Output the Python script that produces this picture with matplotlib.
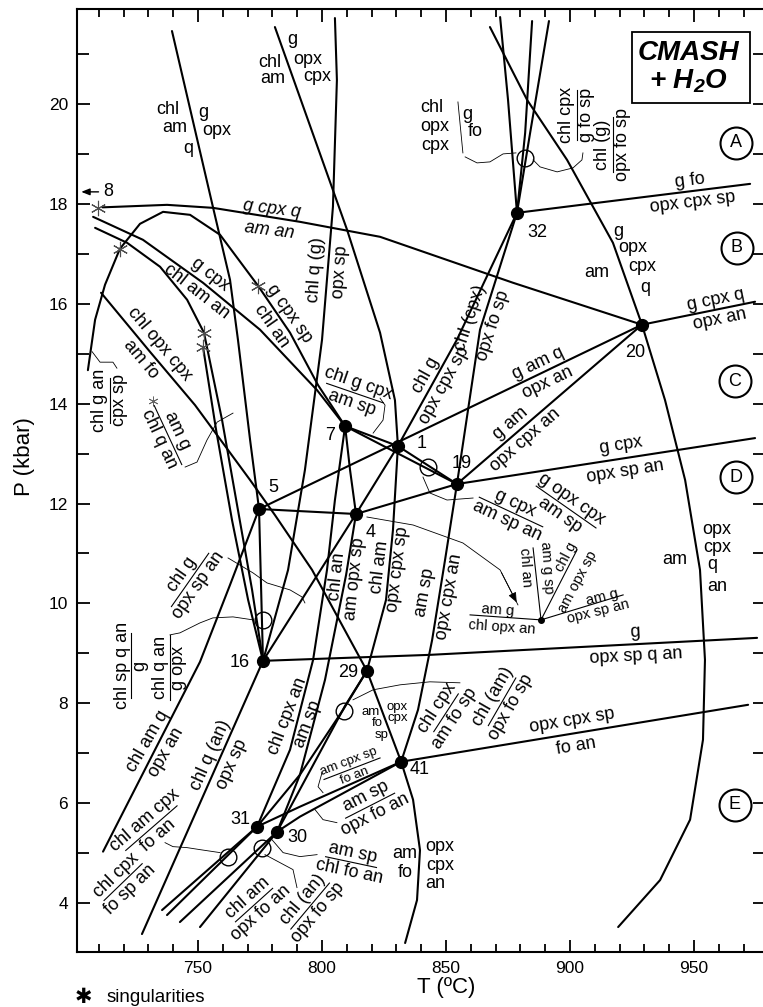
import numpy as np
import matplotlib.pyplot as plt
from matplotlib.patches import Rectangle

plt.rcParams['font.family'] = ['Liberation Sans', 'DejaVu Sans']
plt.rcParams['mathtext.fontset'] = 'custom'
plt.rcParams['mathtext.bf'] = 'Liberation Sans:bold:italic'

# invariant points (T in C, P in kbar)
ip_name = ['32', '20', '7', '1', '19', '5', '4', '16', '29', '41', '31', '30']
ip_T = [878.6, 929.0, 809.3, 830.6, 854.4, 774.6, 813.7, 776.2, 818.1, 831.9, 773.8, 781.9]
ip_P = [17.82, 15.58, 13.55, 13.15, 12.39, 11.89, 11.79, 8.85, 8.65, 6.83, 5.53, 5.43]
ip = {n: (t, p) for n, t, p in zip(ip_name, ip_T, ip_P)}

# singular points (open circles) and singularities (stars)
sing_T = [881.8, 842.7, 776.2, 808.9, 762.1, 775.8]
sing_P = [18.92, 12.73, 9.67, 7.85, 4.93, 5.10]
star_T = [709.7, 718.5, 774.2, 752.4, 752.0]
star_P = [17.92, 17.10, 16.36, 15.42, 15.14]

# univariant reactions
g_cpx_q = [(711.5, 17.93), (737.5, 17.98), (756.0, 17.92), (791.1, 17.64), (823.4, 17.34), (877.0, 16.42), ip['20']]
g_cpx_q_hi = [ip['20'], (974.6, 16.04)]
g_fo = [ip['32'], (910.9, 18.02), (972.6, 18.40)]
am_out = [(867.7, 21.54), (882.7, 20.08), (898.8, 18.88), (917.3, 17.22), ip['20'], (938.3, 14.07),
          (946.4, 12.47), (952.4, 10.67), (954.4, 8.87), (953.6, 7.27), (948.4, 5.67), (936.3, 4.46), (919.4, 3.52)]
top_a = [(871.8, 21.74), (875.0, 20.08), ip['32']]
top_b = [(884.7, 21.66), (881.9, 19.42), ip['32']]
top_c = [(891.5, 21.66), (883.9, 19.42), ip['32']]
chl_g = [ip['32'], (854.4, 15.28), ip['1'], ip['4'], ip['16']]
chl_cpx = [ip['32'], (863.7, 15.48), ip['19']]
chl_am = [(781.0, 21.54), (810.1, 17.48), (823.4, 15.42), (829.4, 14.07), ip['1'], (828.6, 11.47), (825.8, 10.07), ip['29']]
g_am_q = [ip['5'], ip['20']]
g_am = [ip['19'], ip['20']]
g_cpx_sp = [ip['4'], ip['19'], (974.6, 13.31)]
five_four = [ip['5'], ip['4']]
chl_opx_cpx = [(710.9, 16.22), (730.6, 15.04), (748.8, 13.97), (771.0, 12.47), (781.0, 11.77), (796.0, 10.67), ip['29'], ip['41']]
am_fo = [ip['41'], (836.7, 6.07), (839.5, 5.06), (838.3, 4.06), (833.5, 3.20)]
opx_cpx_sp = [ip['41'], (971.8, 7.97)]
am_sp = [ip['19'], (849.6, 10.87), (844.4, 9.27), (838.7, 7.87), ip['41']]
g_opx = [ip['16'], (843.5, 8.97), (975.4, 9.31)]
chl_q = [(805.2, 21.72), (806.0, 20.48), (804.4, 17.94), (800.0, 15.28), (798.4, 14.67), (793.1, 12.67), (786.3, 10.67), ip['16'], (727.4, 3.38)]
chl_am_q = [(739.5, 21.46), (756.0, 17.94), (762.9, 16.48), (766.1, 15.28), (771.0, 13.27), ip['5'],
            (762.9, 10.37), (750.8, 8.83), (730.6, 6.87), (711.7, 5.03)]
hump = [(705.6, 14.67), (708.5, 15.68), (712.5, 16.38), (718.5, 17.10), (726.6, 17.60), (735.9, 17.84), (746.8, 17.78),
        (758.9, 17.38), (774.2, 16.36), (787.1, 15.42), (798.4, 14.37), ip['7']]
g_cpx_chl = [(707.7, 17.74), (727.8, 17.28), (752.0, 16.42), (775.0, 15.48), (798.0, 14.27), ip['7']]
chl_am_an = [(708.5, 17.52), (721.4, 17.22), (734.7, 16.74), (745.6, 16.08), (752.4, 15.42)]
sing_a = [(752.4, 15.42), (759.7, 13.67), (766.1, 11.87), (771.8, 10.27), ip['16']]
sing_b = [(752.0, 15.14), (757.3, 13.47), (763.7, 11.67), (770.2, 10.07), ip['16']]
five_16 = [ip['5'], (775.4, 10.37), ip['16']]
seven_four = [ip['7'], (811.3, 12.67), ip['4']]
chl_an = [ip['4'], (809.7, 10.57), (801.2, 8.47), (791.1, 6.57), ip['30'], (742.7, 3.62)]
chl_cpx_an = [ip['7'], (805.2, 12.07), (802.0, 10.67), (796.4, 8.87), (787.1, 7.07), ip['31'], (735.5, 3.86)]
t29_31 = [ip['29'], (808.5, 7.87), (791.1, 6.57), ip['31'], (737.5, 3.76)]
t29_30 = [ip['29'], (809.3, 7.95), ip['30'], (750.8, 3.52)]
am_cpx_sp = [ip['41'], (791.1, 5.93), ip['31']]
am_sp_lo = [ip['41'], (791.1, 5.73), ip['30']]
seven_19a = [ip['7'], ip['1'], ip['19']]
seven_19b = [ip['7'], ip['19']]

reactions = [g_cpx_q, g_cpx_q_hi, g_fo, am_out, top_a, top_b, top_c, chl_g, chl_cpx, chl_am, g_am_q, g_am,
             g_cpx_sp, five_four, chl_opx_cpx, am_fo, opx_cpx_sp, am_sp, g_opx, chl_q, chl_am_q, hump,
             g_cpx_chl, chl_am_an, sing_a, sing_b, five_16, seven_four, chl_an, chl_cpx_an, t29_31, t29_30,
             am_cpx_sp, am_sp_lo, seven_19a, seven_19b]

# leader lines tying labels to points
leaders = [
    [(707.3, 15.04), (710.5, 14.83), (715.7, 14.83), (717.3, 14.71)],
    [(744.8, 12.73), (749.6, 12.83), (753.6, 13.27), (757.7, 13.63), (764.1, 13.81)],
    [(762.1, 10.91), (772.2, 10.61), (777.8, 10.41), (787.1, 10.27), (791.9, 10.13), (793.1, 10.01)],
    [(772.2, 9.67), (764.1, 9.73), (756.0, 9.71), (750.8, 9.61), (742.7, 9.41), (738.7, 9.37)],
    [(758.9, 5.01), (750.8, 5.07), (745.6, 5.11), (739.9, 5.13), (736.7, 5.21)],
    [(777.0, 4.97), (788.3, 4.67), (789.9, 4.31)],
    [(779.8, 5.27), (784.3, 5.01), (791.1, 4.93), (798.0, 4.97)],
    [(812.5, 8.07), (820.6, 8.27), (831.5, 8.37), (843.5, 8.43), (855.6, 8.41)],
    [(800.0, 6.61), (798.4, 6.33), (800.4, 6.21)],
    [(797.2, 5.87), (800.4, 5.67), (806.0, 5.61)],
    [(840.7, 12.53), (843.5, 12.21), (850.4, 12.07), (860.9, 12.11)],
    [(820.6, 13.41), (824.6, 13.67), (825.4, 13.97), (823.4, 14.11)],
    [(857.7, 18.94), (862.5, 18.82), (867.7, 18.84), (873.0, 19.00), (878.2, 19.02)],
    [(854.8, 20.04), (856.8, 19.02)],
    [(885.1, 18.88), (887.9, 18.74), (894.8, 18.64), (901.2, 18.72), (904.8, 18.88), (905.2, 19.02)],
]
pointer = [(818.1, 11.73), (836.7, 11.57), (856.8, 11.21), (871.8, 10.67), (879.0, 9.97)]

# small inset around one invariant point
inset_c = (888.3, 9.67)
inset_ends = [(859.7, 9.77), (885.1, 11.11), (902.8, 11.07), (921.4, 10.17)]

region_lab = ['A', 'B', 'C', 'D', 'E']
region_T = [966.9, 967.3, 966.5, 966.9, 966.5]
region_P = [19.22, 17.12, 14.45, 12.53, 5.97]

fig = plt.figure(figsize=(7.63, 10.07), dpi=100)
ax = fig.add_axes([0.1009, 0.0546, 0.9017, 0.9364])
ax.set_xlim(701.2, 978.6)
ax.set_ylim(3.02, 21.9)

for r in reactions:
    r = np.array(r)
    ax.plot(r[:, 0], r[:, 1], color='k', lw=1.5, solid_capstyle='round')
for r in leaders:
    r = np.array(r)
    ax.plot(r[:, 0], r[:, 1], color='k', lw=0.6)
pt = np.array(pointer)
ax.plot(pt[:, 0], pt[:, 1], color='k', lw=0.6)
ax.annotate('', xy=pt[-1], xytext=pt[-2],
            arrowprops=dict(arrowstyle='-|>,head_length=0.6,head_width=0.25', color='k', lw=0.6))
for e in inset_ends:
    ax.plot([inset_c[0], e[0]], [inset_c[1], e[1]], color='k', lw=0.8)
ax.plot(*inset_c, 'o', color='k', ms=4)

ax.plot(ip_T, ip_P, 'o', color='k', ms=8.5, zorder=5)
ax.plot(sing_T, sing_P, 'o', mfc='none', mec='k', mew=1.0, ms=12, zorder=5)
ax.plot(star_T, star_P, ls='none', marker=(6, 2, 0), ms=11, mew=0.8, color='0.3', zorder=5)
ax.plot([731.9], [14.05], ls='none', marker=(6, 2, 0), ms=7, mew=0.6, color='0.4')

ax.plot(region_T, region_P, 'o', mfc='none', mec='k', mew=1.5, ms=23)
for s, t, p in zip(region_lab, region_T, region_P):
    ax.text(t, p, s, ha='center', va='center', fontsize=13)


def pair(T, P, top, bot, rot, d=11, size=13, bar=0, **kw):
    # two labels either side of a line (or of a fraction bar)
    th = np.radians(rot)
    ox, oy = -np.sin(th) * d, np.cos(th) * d
    for s, sx, sy in ((top, ox, oy), (bot, -ox, -oy)):
        ax.annotate(s, (T, P), xytext=(sx, sy), textcoords='offset pixels', rotation=rot,
                    rotation_mode='anchor', ha='center', va='center', fontsize=size, **kw)
    if bar:
        c = ax.transData.transform((T, P))
        half = np.array([np.cos(th), np.sin(th)]) * bar / 2
        ends = ax.transData.inverted().transform([c - half, c + half])
        ax.plot(ends[:, 0], ends[:, 1], color='k', lw=0.8)


def label(T, P, s, size=13, rot=0, **kw):
    ax.text(T, P, s, ha='center', va='center', fontsize=size, rotation=rot,
            rotation_mode='anchor', **kw)


# labels along the reactions
pair(779.4, 17.68, 'g cpx q', 'am an', -7, style='italic')
pair(752.0, 16.42, 'g cpx', 'chl am an', -38)
pair(783.1, 15.68, 'g cpx sp', 'chl an', -55)
pair(730.6, 15.04, 'chl opx cpx', 'am fo', -50, d=12)
pair(802.4, 16.66, 'chl q (g)', 'opx sp', 86, d=12)
pair(845.6, 14.47, 'chl g', 'opx cpx sp', 61)
pair(864.5, 15.64, 'chl (cpx)', 'opx fo sp', 72, d=12)
pair(889.1, 14.61, 'g am q', 'opx an', 25.6)
pair(879.0, 13.44, 'g am', 'opx cpx an', 41)
pair(921.4, 12.90, 'g cpx', 'opx sp an', 9, d=13)
pair(959.7, 15.89, 'g cpx q', 'opx an', 11.5, d=10)
pair(948.8, 18.25, 'g fo', 'opx cpx sp', 7)
pair(926.2, 9.18, 'g', 'opx sp q an', 3, d=12)
pair(901.6, 7.40, 'opx cpx sp', 'fo an', 9.3, d=13)
pair(846.4, 10.17, 'am sp', 'opx cpx an', 80, d=12)
pair(809.7, 10.51, 'chl an', 'am opx sp', 84, d=9)
pair(827.0, 10.71, 'chl am', 'opx cpx sp', 83, d=9)
pair(790.3, 7.67, 'chl cpx an', 'am sp', 69)
pair(759.3, 6.87, 'chl q (an)', 'opx sp', 66, d=12)
pair(733.5, 7.13, 'chl am q', 'opx an', 60)

# fraction-style labels
pair(746.8, 10.47, 'chl g', 'opx sp an', 55, d=10, bar=65)
pair(737.9, 13.37, 'am g', 'chl q an', -65, d=10, bar=65)
pair(714.5, 14.07, 'chl g an', 'cpx sp', 90, d=10, bar=45)
pair(723.0, 8.75, 'chl sp q an', 'g', 90, d=9, bar=65)
pair(738.7, 8.71, 'chl q an', 'g opx', 90, d=9, bar=65)
pair(731.2, 5.50, 'chl am cpx', 'fo an', 41, d=10, bar=68)
pair(719.8, 4.42, 'chl cpx', 'fo sp an', 44, d=10, bar=53)
pair(772.6, 3.96, 'chl am', 'opx fo an', 42, d=10, bar=50)
pair(795.2, 3.94, 'chl (an)', 'opx fo sp', 50, d=10, bar=60)
pair(811.7, 4.82, 'am sp', 'chl fo an', -12, d=10, bar=52)
pair(812.1, 6.69, 'am cpx sp', 'fo an', 21, d=8, size=9.5, bar=60)
pair(819.4, 5.95, 'am sp', 'opx fo an', 27, d=10, bar=55)
pair(850.0, 7.81, 'chl cpx', 'am fo sp', 57, d=10, bar=45)
pair(872.6, 8.03, 'chl (am)', 'opx fo sp', 60, d=10, bar=55)
pair(813.3, 14.21, 'chl g cpx', 'am sp', -19, d=10, bar=60)
pair(876.2, 11.83, 'g cpx', 'am sp an', -25, d=10, bar=70)
pair(898.4, 11.93, 'g opx cpx', 'am sp', -35, d=10, bar=73)
pair(902.8, 19.78, 'chl cpx', 'g fo sp', 90, d=10, bar=50)
pair(917.3, 19.18, 'chl (g)', 'opx fo sp', 90, d=10, bar=55)

# inset labels
for s, t, p, r in [('am g', 871.0, 9.87, -4), ('chl opx an', 872.6, 9.53, -4),
                   ('am g sp', 890.7, 10.71, -86), ('chl an', 881.8, 10.73, -86),
                   ('chl g', 898.4, 10.93, 62), ('am opx sp', 903.2, 10.43, 62),
                   ('am g', 912.9, 10.13, 14), ('opx sp an', 911.3, 9.83, 14)]:
    label(t, p, s, size=10.5, rot=r)

# stacked assemblage labels
for s, t, p in [('chl', 737.9, 19.88), ('am', 740.7, 19.52), ('q', 746.0, 19.10), ('g', 752.0, 19.82),
                ('opx', 757.7, 19.46), ('chl', 779.0, 20.84), ('am', 780.2, 20.50), ('g', 787.9, 21.30),
                ('opx', 794.4, 20.90), ('cpx', 798.0, 20.54), ('chl', 844.4, 19.92), ('opx', 845.6, 19.54),
                ('cpx', 845.6, 19.16), ('g', 858.5, 19.78), ('fo', 861.7, 19.44), ('g', 919.3, 17.44),
                ('opx', 925.4, 17.12), ('cpx', 929.0, 16.74), ('q', 930.2, 16.32), ('am', 910.9, 16.62),
                ('am', 942.3, 10.87), ('opx', 959.3, 11.47), ('cpx', 959.3, 11.11), ('q', 957.2, 10.77),
                ('an', 959.3, 10.33), ('am', 833.5, 5.00), ('fo', 833.5, 4.62), ('opx', 847.6, 5.13),
                ('cpx', 847.6, 4.76), ('an', 845.6, 4.40)]:
    label(t, p, s)
for s, t, p in [('am', 819.4, 7.83), ('fo', 822.2, 7.61), ('sp', 824.2, 7.37), ('opx', 830.2, 7.93),
                ('cpx', 830.6, 7.71)]:
    label(t, p, s, size=9.5)

# invariant point numbers
for s, t, p in [('32', 886.7, 17.42), ('20', 926.2, 15.02), ('7', 803.2, 13.37), ('1', 840.3, 13.21),
                ('19', 856.4, 12.81), ('5', 780.2, 12.33), ('4', 819.4, 11.41), ('16', 766.9, 8.81),
                ('29', 810.5, 8.61), ('31', 766.9, 5.67), ('30', 789.9, 5.31), ('41', 839.5, 6.67),
                ('8', 713.7, 18.24)]:
    label(t, p, s)
ax.annotate('', xy=(701.8, 18.24), xytext=(711.0, 18.24),
            arrowprops=dict(arrowstyle='-|>,head_length=0.5,head_width=0.2', color='k', lw=1.0))

# system box
ax.add_patch(Rectangle((925.0, 20.02), 47.6, 1.42, fill=False, lw=1.3, zorder=6))
ax.text(947.9, 21.02, 'CMASH', ha='center', va='center', fontsize=20, fontweight='bold', style='italic')
ax.text(947.9, 20.45, '+ H$_\\mathbf{2}$O', ha='center', va='center', fontsize=20, fontweight='bold', style='italic')

ax.set_xticks(np.arange(750, 951, 50))
ax.set_xticks(np.arange(710, 971, 10), minor=True)
ax.set_yticks(np.arange(4, 21, 2))
ax.set_yticks(np.arange(4, 22, 1), minor=True)
ax.tick_params(which='both', direction='in', top=True, right=True, width=1.3, labelsize=12.5)
ax.tick_params(which='major', length=9, pad=6.5)
ax.tick_params(axis='x', which='minor', length=6)
ax.tick_params(axis='y', which='minor', length=8.5)
for sp in ax.spines.values():
    sp.set_linewidth(1.5)

ax.set_xlabel('T (ºC)', fontsize=16)
ax.xaxis.set_label_coords(0.537, -0.026)
ax.set_ylabel('P (kbar)', fontsize=16)
ax.yaxis.set_label_coords(-0.061, 0.525)

fig.text(0.1088, 0.0099, '✱', family='DejaVu Sans', fontsize=15, ha='center', va='center')
fig.text(0.1402, 0.0099, 'singularities', fontsize=13.5, ha='left', va='center')

fig.savefig('out.png', dpi=100)
